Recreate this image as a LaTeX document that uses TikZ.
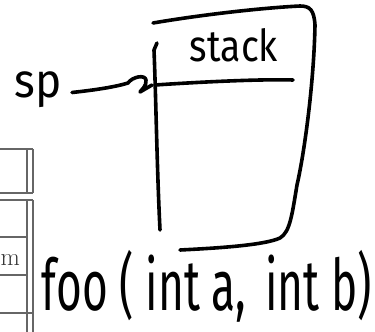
\documentclass[tikz,border=0pt]{standalone}
\usepackage{fontspec}
\usepackage{graphicx}
\newfontfamily\handfont{Fira Sans}
\usetikzlibrary{arrows.meta}
\begin{document}
\begin{tikzpicture}[x=1pt,y=-1pt,
  ink/.style={line width=3.6pt, line cap=round, line join=round, black},
  hand/.style={inner sep=0pt, outer sep=0pt, font=\handfont},
  tbl/.style={draw=gray!80!black, line width=1.1pt}]
\useasboundingbox (0,0) rectangle (375,332);
% partial table at the left edge
\begin{scope}
\clip (0,0) rectangle (375,332);
\draw[tbl] (-10,149) -- (33,149) (-10,193) -- (33,193) (27,149) -- (27,193) (33,149) -- (33,193);
\draw[tbl] (-10,200) -- (33,200) (27,200) -- (27,340) (33,200) -- (33,340);
\draw[tbl] (-10,237) -- (27,237) (-10,275) -- (27,275) (-10,313) -- (33,313);
\node[anchor=base west, inner sep=0pt, font=\fontsize{25}{30}\selectfont, text=black!80] (m) at (0.5,265) {m};
\end{scope}
% stack box
\draw[ink] (153,23) .. controls (200,15) and (260,8) .. (300,6)
  .. controls (310,6) and (314,10) .. (315,25)
  .. controls (314,80) and (305,150) .. (297,185)
  .. controls (292,215) and (290,232) .. (280,238)
  .. controls (265,245) and (220,248) .. (180,250);
\draw[ink] (157,43) -- (154,50) .. controls (156,100) and (157,170) .. (160,230);
\draw[ink] (155,85) coordinate (divL) .. controls (200,82) and (260,79) .. (293,80) coordinate (divR);
\node[hand] (stack) at (234,45) {\resizebox{88pt}{33pt}{stack}};
% sp pointer
\node[hand] (sp) at (38.5,89.5) {\resizebox*{47pt}{36pt}{sp}};
\coordinate (spTip) at (152,85);
\draw[ink] ([xshift=10pt,yshift=-3pt]sp.east) .. controls (95,90) and (115,87) .. (128,83)
  .. controls (132,77) and (145,74) .. (146,80)
  .. controls (147,86) and (141,90) .. (140,92) -- (spTip);
% function signature
\node[hand] (foo) at (207,286) {\resizebox*{330pt}{72pt}{foo ( int a,\, int b)}};
\end{tikzpicture}
\end{document}
